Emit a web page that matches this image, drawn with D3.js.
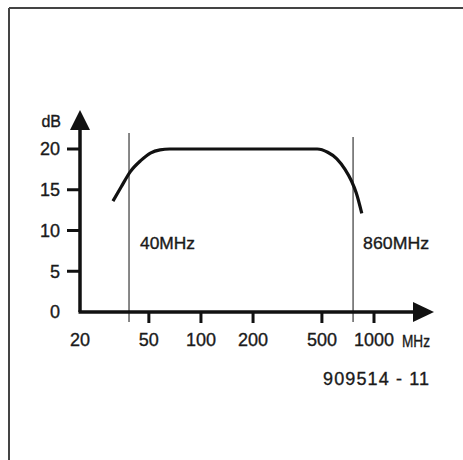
<!DOCTYPE html>
<meta charset="utf-8">
<style>
body { margin: 0; background: #fff; }
text { font-family: "Liberation Sans", Arial, sans-serif; fill: #1a1a1a; stroke: #1a1a1a; stroke-width: 0.35; }
</style>
<body>
<script src="https://cdn.jsdelivr.net/npm/d3@7"></script>
<script>

// response curve (MHz, dB)
var freqs = [31, 34.5, 39, 45, 51, 58, 66, 100, 200, 470, 540, 610, 680, 740, 790, 850];
var gains = [13.6, 15.3, 17.2, 18.6, 19.5, 19.9, 20, 20, 20, 20, 19.6, 18.8, 17.5, 16.1, 14.6, 12.1];

var xTicks = [50, 100, 200, 500, 1000];
var yTicks = [0, 5, 10, 15, 20];

// cutoff markers as drawn, with their printed labels
var markerFreqs = [38.4, 757];
var markerLabels = ["40MHz", "860MHz"];

var figNumber = "909514 - 11";

var W = 463, H = 460;

var svg = d3.select("body").append("svg")
    .attr("width", W)
    .attr("height", H);

// frame (top and left only)
svg.append("line").attr("x1", 9).attr("y1", 8).attr("x2", W).attr("y2", 8)
    .attr("stroke", "#444").attr("stroke-width", 2);
svg.append("line").attr("x1", 9).attr("y1", 8).attr("x2", 9).attr("y2", H)
    .attr("stroke", "#444").attr("stroke-width", 2);

var x = d3.scaleLog().domain([20, 1000]).range([80, 374]);
var y = d3.scaleLinear().domain([0, 20]).range([312, 149]);

var x0 = x(20), y0 = y(0);

// marker lines
svg.selectAll(".marker")
    .data(markerFreqs)
  .enter().append("line")
    .attr("class", "marker")
    .attr("x1", function(d) { return x(d); })
    .attr("x2", function(d) { return x(d); })
    .attr("y1", function(d, i) { return i == 0 ? 133 : 137; })
    .attr("y2", y0 + 10)
    .attr("stroke", "#555")
    .attr("stroke-width", 1.4);

svg.selectAll(".mlabel")
    .data(markerLabels)
  .enter().append("text")
    .attr("class", "mlabel")
    .attr("x", function(d, i) { return x(markerFreqs[i]) + (i == 0 ? 11 : 10); })
    .attr("y", 243)
    .attr("dy", "0.36em")
    .attr("font-size", 17)
    .attr("textLength", function(d, i) { return i == 0 ? 55 : 66; })
    .attr("lengthAdjust", "spacingAndGlyphs")
    .text(function(d) { return d; });

// axes
svg.append("line").attr("x1", x0).attr("y1", y0).attr("x2", x0).attr("y2", 125)
    .attr("stroke", "#111").attr("stroke-width", 3.5);
svg.append("line").attr("x1", x0 - 1.5).attr("y1", y0).attr("x2", 418).attr("y2", y0)
    .attr("stroke", "#111").attr("stroke-width", 3.5);
svg.append("path")
    .attr("d", "M" + x0 + ",110 L" + (x0 + 10) + ",130 L" + (x0 - 10) + ",130 Z")
    .attr("fill", "#111");
svg.append("path")
    .attr("d", "M434," + y0 + " L413," + (y0 - 10) + " L413," + (y0 + 10) + " Z")
    .attr("fill", "#111");

// y ticks
svg.selectAll(".ytick")
    .data(yTicks.filter(function(d) { return d > 0; }))
  .enter().append("line")
    .attr("x1", x0 - 13).attr("x2", x0)
    .attr("y1", function(d) { return y(d); })
    .attr("y2", function(d) { return y(d); })
    .attr("stroke", "#111").attr("stroke-width", 3);

svg.selectAll(".ylabel")
    .data(yTicks)
  .enter().append("text")
    .attr("x", 60)
    .attr("y", function(d) { return y(d); })
    .attr("dy", "0.36em")
    .attr("text-anchor", "end")
    .attr("font-size", 18)
    .text(function(d) { return d; });

svg.append("text")
    .attr("x", 61).attr("y", 121).attr("dy", "0.36em")
    .attr("text-anchor", "end")
    .attr("font-size", 16)
    .text("dB");

// x ticks
svg.selectAll(".xtick")
    .data(xTicks)
  .enter().append("line")
    .attr("x1", function(d) { return x(d); })
    .attr("x2", function(d) { return x(d); })
    .attr("y1", y0).attr("y2", y0 + 11)
    .attr("stroke", "#111").attr("stroke-width", 3);

svg.selectAll(".xlabel")
    .data([20].concat(xTicks))
  .enter().append("text")
    .attr("x", function(d) { return x(d); })
    .attr("y", 340)
    .attr("dy", "0.36em")
    .attr("text-anchor", "middle")
    .attr("font-size", 18)
    .text(function(d) { return d; });

svg.append("text")
    .attr("x", 402).attr("y", 341).attr("dy", "0.36em")
    .attr("font-size", 17)
    .attr("textLength", 28)
    .attr("lengthAdjust", "spacingAndGlyphs")
    .text("MHz");

// response curve
var line = d3.line()
    .x(function(d, i) { return x(freqs[i]); })
    .y(function(d) { return y(d); })
    .curve(d3.curveMonotoneX);

svg.append("path")
    .attr("d", line(gains))
    .attr("fill", "none")
    .attr("stroke", "#111")
    .attr("stroke-width", 3.2);

svg.append("text")
    .attr("x", 323).attr("y", 379).attr("dy", "0.36em")
    .attr("font-size", 18)
    .attr("textLength", 106)
    .attr("lengthAdjust", "spacing")
    .text(figNumber);

</script>
</body>
